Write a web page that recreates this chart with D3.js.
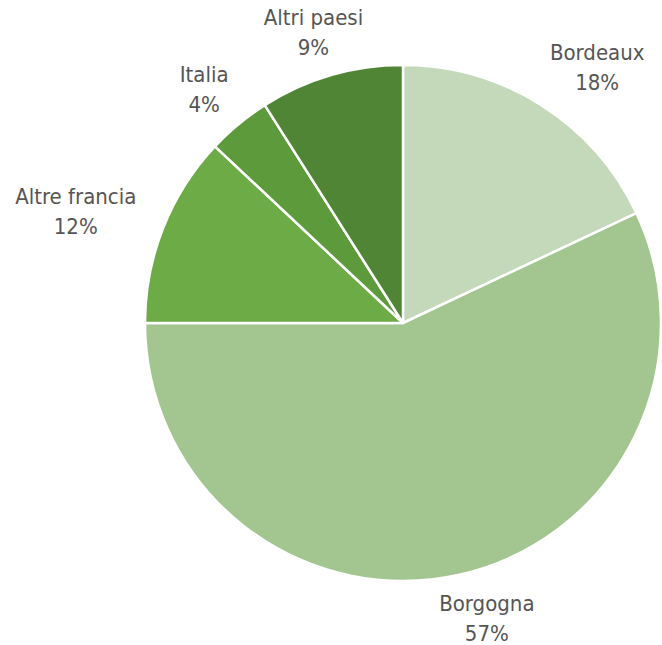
<!DOCTYPE html>
<html>
<head>
<meta charset="utf-8">
<script src="https://cdn.jsdelivr.net/npm/d3@7"></script>
<style>
  body { margin: 0; background: #fff; }
  text { font-family: "Liberation Sans Narrow", "DejaVu Sans Condensed", "Roboto Condensed", sans-serif; }
</style>
</head>
<body>
<svg id="chart" width="662" height="645"></svg>
<script>
"use strict";

// Wine origin share, clockwise from 12 o'clock
const regions = ["Bordeaux", "Borgogna", "Altre francia", "Italia", "Altri paesi"];
const shares = [18, 57, 12, 4, 9];
const colours = ["#c3d9b9", "#a3c590", "#6cab46", "#5d9a3b", "#4f8534"];

const width = 662;
const height = 645;
const cx = 403;
const cy = 323;
const radius = 258;

let svg = d3.select("#chart");
let g = svg.append("g")
    .attr("transform", `translate(${cx},${cy})`);

let data = regions.map((name, i) => ({name: name, value: shares[i], colour: colours[i]}));

let pie = d3.pie()
    .sort(null)
    .value(d => d.value);

let arc = d3.arc()
    .innerRadius(0)
    .outerRadius(radius);

let arcs = pie(data);

g.selectAll("path")
  .data(arcs)
  .enter().append("path")
  .attr("d", arc)
  .attr("fill", d => d.data.colour)
  .attr("stroke", "#fff")
  .attr("stroke-width", 2.5)
  .attr("stroke-linejoin", "round");

// labels sit outside the rim, pushed out by half their own box
const labelRx = radius + 42;
const labelRy = radius + 17;
const labelShiftX = 8;
const fontSize = 22;
const lineHeight = 30;

let labels = g.selectAll("g.label")
  .data(arcs)
  .enter().append("g")
  .attr("class", "label");

let texts = labels.append("text")
  .attr("text-anchor", "middle")
  .attr("fill", "#555")
  .attr("font-size", fontSize);

texts.append("tspan")
  .attr("x", 0)
  .attr("y", 0)
  .text(d => d.data.name);
texts.append("tspan")
  .attr("x", 0)
  .attr("y", lineHeight)
  .text(d => d.data.value + "%");

labels.each(function(d) {
  let box = this.getBBox();
  let mid = (d.startAngle + d.endAngle) / 2;
  let sx = Math.sin(mid);
  let sy = -Math.cos(mid);
  let px = labelShiftX + labelRx * sx + sx * box.width / 2;
  let py = labelRy * sy + sy * box.height / 2;
  // centre the two-line block on (px, py)
  let oy = py - (box.y + box.height / 2);
  d3.select(this).attr("transform", `translate(${px},${oy})`);
});
</script>
</body>
</html>
